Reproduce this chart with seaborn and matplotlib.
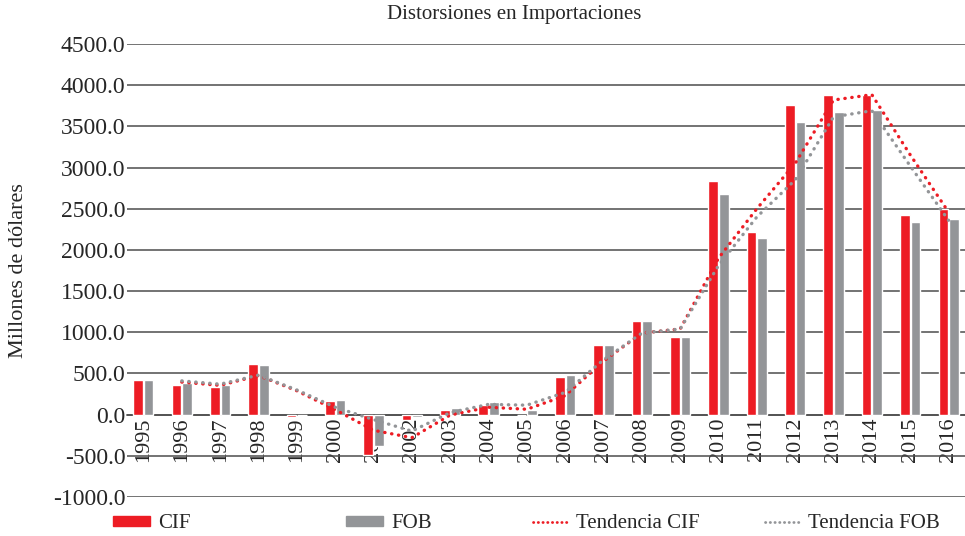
import numpy as np
import pandas as pd
import matplotlib as mpl

mpl.use('Agg')
import matplotlib.pyplot as plt
import seaborn as sns
from matplotlib.patches import Patch
from matplotlib.lines import Line2D

## Data
years = [str(y) for y in range(1995, 2017)]
cif = [425, 365, 330, 620, -30, 170, -490, -70, 60, 120, 0, 460, 845, 1135, 940,
       2840, 2220, 3760, 3885, 3885, 2425, 2500]
fob = [425, 390, 355, 605, 0, 180, -385, -30, 85, 155, 60, 485, 845, 1135, 945,
       2680, 2145, 3555, 3675, 3700, 2340, 2375]
# trend lines start in 1996
trend_years = years[1:]
trend_cif = [395, 355, 475, 290, 60, -190, -280, -5, 90, 65, 230, 650, 990, 1040,
             1900, 2500, 3050, 3820, 3885, 3155, 2460]
trend_fob = [410, 370, 480, 300, 90, -60, -200, 25, 125, 115, 270, 665, 990, 1040,
             1810, 2400, 2850, 3615, 3690, 3020, 2360]

RED = '#ED1C24'
GRAY = '#939598'
GRID = '#4d4d4d'

df = pd.DataFrame({'year': years * 2,
                   'value': cif + fob,
                   'serie': ['CIF'] * len(years) + ['FOB'] * len(years)})
df_trend = pd.DataFrame({'year': trend_years * 2,
                         'value': trend_cif + trend_fob,
                         'serie': ['Tendencia CIF'] * len(trend_years) + ['Tendencia FOB'] * len(trend_years)})

sns.set_style('white')
plt.rcParams['font.family'] = ['Liberation Serif', 'DejaVu Serif']

fig = plt.figure(figsize=(9.65, 5.36), dpi=100)
ax = fig.add_axes([127 / 965, 1 - 497 / 536, 838 / 965, 453 / 536])

sns.barplot(data=df, x='year', y='value', hue='serie', order=years,
            palette={'CIF': RED, 'FOB': GRAY}, width=0.55, gap=0.1,
            saturation=1, legend=False, ax=ax, zorder=3)

# map years to category positions for the trend lines
pos = {y: i for i, y in enumerate(years)}
df_trend['x'] = df_trend['year'].map(pos)
sns.lineplot(data=df_trend, x='x', y='value', hue='serie',
             palette={'Tendencia CIF': RED, 'Tendencia FOB': GRAY},
             linestyle=(0, (0.1, 2.0)), linewidth=2.4, dash_capstyle='round',
             legend=False, ax=ax, zorder=4)

ax.set_xlim(-0.43, 21.43)
ax.set_ylim(-1000, 4500)
yt = np.arange(-1000, 4501, 500)
ax.set_yticks(yt)
ax.set_yticklabels([f'{v:.1f}' for v in yt])
ax.set_xticks(range(len(years)))
ax.set_xticklabels(years)
ax.tick_params(axis='x', labelrotation=90, labelsize=16, length=0, pad=2)
ax.tick_params(axis='y', labelsize=17, length=0, pad=1)
ax.yaxis.grid(True, color=GRID, linewidth=1.1, zorder=0)
ax.xaxis.grid(False)
for s in ['left', 'right', 'top']:
    ax.spines[s].set_visible(False)
ax.spines['bottom'].set_position(('data', 0))
ax.spines['bottom'].set_color(GRID)
ax.spines['bottom'].set_linewidth(1.1)
ax.set_xlabel('')
ax.set_ylabel('Millones de dólares', fontsize=16, labelpad=18)
fig.text(514 / 965, 1 - 15 / 536, 'Distorsiones en Importaciones', fontsize=15,
         ha='center', va='center')

# legend entries placed one by one, like the original layout
entries = [(Patch(color=RED, label='CIF'), 113),
           (Patch(color=GRAY, label='FOB'), 346),
           (Line2D([], [], color=RED, linestyle=(0, (0.1, 1.6)), linewidth=2,
                   dash_capstyle='round', label='Tendencia CIF'), 533),
           (Line2D([], [], color=GRAY, linestyle=(0, (0.1, 1.6)), linewidth=2,
                   dash_capstyle='round', label='Tendencia FOB'), 765)]
for h, x0 in entries:
    hl = 1.78 if isinstance(h, Patch) else 1.65
    fig.legend(handles=[h], loc='center left', bbox_to_anchor=(x0 / 965, 1 - 524 / 536),
               frameon=False, fontsize=15, handlelength=hl, handleheight=0.4,
               handletextpad=0.4, borderpad=0, borderaxespad=0)

fig.savefig('out.png', dpi=100)
